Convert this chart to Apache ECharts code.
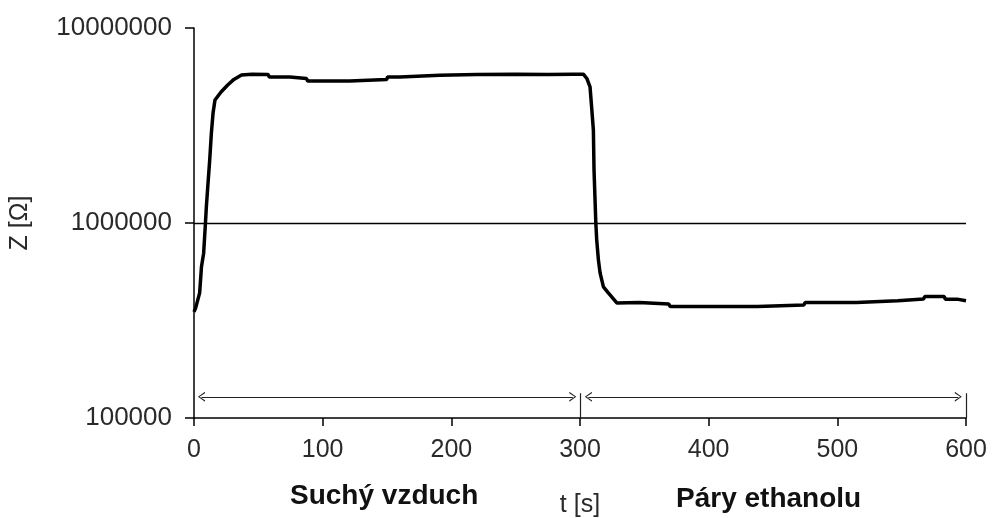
<!DOCTYPE html>
<html>
<head>
<meta charset="utf-8">
<script src="https://cdn.jsdelivr.net/npm/echarts@6/dist/echarts.min.js"></script>
<style>html,body{margin:0;padding:0;background:#fff;}#c{width:992px;height:518px;}</style>
</head>
<body>
<div id="c"></div>
<script>
// time [s]
var times = [0, 1.3, 4.4, 5.8, 7.5, 8.9, 9.6, 10.9, 12.2, 13.5, 14.8, 16.3, 21, 26.2, 31, 36.9, 45, 57.6, 58.5, 74.4, 75.3, 87.4, 88.3, 121, 122, 149.7, 150.5, 160, 161, 191, 192, 220, 250, 275, 294.8, 302.6, 305.3, 307.8, 309.1, 310.4, 310.9, 312.3, 313, 314.3, 315.6, 318.2, 322, 328.6, 346, 347, 369, 370, 438, 439, 474, 475, 515, 516, 547, 548, 567, 568, 583, 584, 593, 594, 600];
// impedance Z [Ohm]
var values = [350000, 367000, 438000, 596000, 700000, 1000000, 1210000, 1600000, 2100000, 2890000, 3660000, 4270000, 4700000, 5100000, 5450000, 5740000, 5800000, 5780000, 5610000, 5610000, 5510000, 5510000, 5350000, 5350000, 5440000, 5440000, 5610000, 5610000, 5730000, 5730000, 5800000, 5780000, 5800000, 5780000, 5800000, 5800000, 5510000, 4990000, 3880000, 2990000, 1870000, 1000000, 817000, 647000, 555000, 470000, 438000, 389000, 391000, 384000, 384000, 373000, 373000, 380000, 380000, 391000, 391000, 399000, 399000, 408000, 408000, 420000, 420000, 407000, 407000, 399000, 399000];
// axis settings
var xTicks = [0, 100, 200, 300, 400, 500, 600];
var yMin = 100000, yMax = 10000000;
// annotation: phase arrows [start, end] in seconds, arrow level, divider times
var phase1 = [5.8, 294.4];
var phase2 = [306.5, 594];
var arrowLevel = 128500;
var dividerTop = 134000;
var dividers = [300, 600];
var gridValue = 1000000;
var phaseLabels = ['Suchý vzduch', 'Páry ethanolu'];

var chev = 'path://M5,0 L10,8 L8.6,8 L5,1.8 L1.4,8 L0,8 Z';
var seriesData = times.map(function (t, i) { return [t, values[i]]; });

var thinLine = { color: '#222', width: 1.2, type: 'solid' };
var markData = [
  [{ coord: [xTicks[0], gridValue], symbol: 'none' }, { coord: [xTicks[xTicks.length - 1], gridValue], symbol: 'none', lineStyle: { color: '#000', width: 1.3 } }],
  [{ coord: [phase1[0], arrowLevel], symbol: chev, symbolSize: [10, 7] }, { coord: [phase1[1], arrowLevel], symbol: chev, symbolSize: [10, 7] }],
  [{ coord: [phase2[0], arrowLevel], symbol: chev, symbolSize: [10, 7] }, { coord: [phase2[1], arrowLevel], symbol: chev, symbolSize: [10, 7] }]
];
dividers.forEach(function (d) {
  markData.push([{ coord: [d, dividerTop], symbol: 'none' }, { coord: [d, yMin], symbol: 'none' }]);
});

var txt = '#2a2a2a';
var chart = echarts.init(document.getElementById('c'), null, { renderer: 'canvas' });
chart.setOption({
  animation: false,
  backgroundColor: '#fff',
  grid: { left: 194, right: 26, top: 28, bottom: 100, containLabel: false, outerBoundsMode: 'none' },
  xAxis: {
    type: 'value', min: xTicks[0], max: xTicks[xTicks.length - 1], interval: 100,
    name: 't [s]', nameLocation: 'middle', nameGap: 75,
    nameTextStyle: { fontFamily: 'Liberation Sans', fontSize: 25, color: txt },
    axisLine: { lineStyle: { color: '#000', width: 1.5 } },
    axisTick: { show: true, inside: false, length: 8, lineStyle: { color: '#000', width: 1.5 } },
    axisLabel: { margin: 20, fontFamily: 'Liberation Sans', fontSize: 25, color: txt },
    splitLine: { show: false }
  },
  yAxis: {
    type: 'log', logBase: 10, min: yMin, max: yMax,
    name: 'Z [Ω]', nameLocation: 'middle', nameGap: 161, nameRotate: 90,
    nameTextStyle: { fontFamily: 'Liberation Sans', fontSize: 25, color: txt },
    axisLine: { show: true, lineStyle: { color: '#000', width: 1.5 } },
    axisTick: { show: true, inside: false, length: 9, lineStyle: { color: '#000', width: 1.5 } },
    axisLabel: { margin: 22, fontFamily: 'Liberation Sans', fontSize: 26, color: txt,
      formatter: function (v) { return String(Math.round(v)); } },
    splitLine: { show: false }
  },
  series: [{
    type: 'line',
    data: seriesData,
    showSymbol: false,
    symbol: 'none',
    lineStyle: { color: '#000', width: 3.5 },
    silent: true,
    markLine: {
      silent: true,
      animation: false,
      label: { show: false },
      lineStyle: thinLine,
      emphasis: { disabled: true },
      data: markData
    }
  }],
  graphic: [
    { type: 'text', left: 290, top: 482, silent: true,
      style: { text: phaseLabels[0], font: 'bold 28px "Liberation Sans"', fill: '#111' } },
    { type: 'text', left: 676, top: 485, silent: true,
      style: { text: phaseLabels[1], font: 'bold 28px "Liberation Sans"', fill: '#111' } }
  ]
});
</script>
</body>
</html>
